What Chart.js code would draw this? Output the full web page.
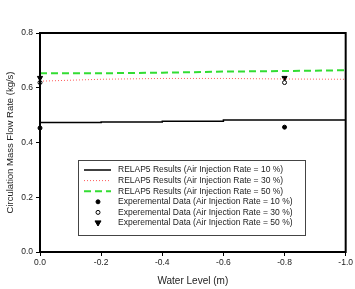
<!DOCTYPE html>
<html>
<head>
<meta charset="utf-8">
<script src="https://cdn.jsdelivr.net/npm/chart.js@4.4.1/dist/chart.umd.min.js"></script>
<style>
  html, body { margin: 0; padding: 0; background: #fff; }
  #wrap { width: 355px; height: 289px; }
</style>
</head>
<body>
<div id="wrap"><canvas id="flowChart" width="355" height="289"></canvas></div>
<script>
// water level positions (m) for the RELAP5 curves
const levels = [0, -0.2, -0.4, -0.6, -0.8, -1.0];
const relap10 = [0.473, 0.475, 0.478, 0.482, 0.482, 0.482];
const relap30 = [0.624, 0.631, 0.634, 0.634, 0.632, 0.631];
const relap50 = [0.653, 0.653, 0.655, 0.659, 0.661, 0.664];

// measured points
const expLevels = [0, -0.8];
const exp10 = [0.453, 0.456];
const exp30 = [0.619, 0.619];
const exp50 = [0.636, 0.636];

const seriesLabels = [
    'RELAP5 Results (Air Injection Rate = 10 %)',
    'RELAP5 Results (Air Injection Rate = 30 %)',
    'RELAP5 Results (Air Injection Rate = 50 %)',
    'Experemental Data (Air Injection Rate = 10 %)',
    'Experemental Data (Air Injection Rate = 30 %)',
    'Experemental Data (Air Injection Rate = 50 %)'
];

const toXY = (xs, ys) => xs.map((x, i) => ({ x: x, y: ys[i] }));

const fontFamily = 'Arial, "Liberation Sans", sans-serif';

// frame around plot area + boxed legend inside it
const framePlugin = {
    id: 'frame',
    afterDraw(chart) {
        const ctx = chart.ctx;
        const a = chart.chartArea;
        ctx.save();
        ctx.strokeStyle = '#000';
        ctx.lineWidth = 2;
        ctx.strokeRect(a.left, a.top, a.right - a.left, a.bottom - a.top);

        // legend
        const bx = 78, by = 160, bw = 227, bh = 75;
        ctx.fillStyle = '#fff';
        ctx.fillRect(bx, by, bw, bh);
        ctx.lineWidth = 1;
        ctx.strokeStyle = '#444';
        ctx.strokeRect(bx + 0.5, by + 0.5, bw, bh);

        ctx.font = '8.5px ' + fontFamily;
        ctx.textBaseline = 'middle';
        chart.data.datasets.forEach((ds, i) => {
            const y = by + 10 + i * 10.6;
            if (ds.showLine) {
                ctx.beginPath();
                ctx.strokeStyle = ds.borderColor;
                ctx.lineWidth = ds.borderWidth;
                ctx.setLineDash(ds.borderDash || []);
                ctx.moveTo(84, y);
                ctx.lineTo(111, y);
                ctx.stroke();
                ctx.setLineDash([]);
            } else {
                ctx.fillStyle = ds.backgroundColor;
                ctx.strokeStyle = ds.borderColor;
                ctx.lineWidth = 1;
                ctx.beginPath();
                const r = ds.pointRadius;
                if (ds.pointStyle === 'circle') {
                    ctx.arc(98, y, r, 0, Math.PI * 2);
                } else {
                    ctx.moveTo(98 - r, y - r * 0.7);
                    ctx.lineTo(98 + r, y - r * 0.7);
                    ctx.lineTo(98, y + r);
                    ctx.closePath();
                }
                ctx.fill();
                ctx.stroke();
            }
            ctx.fillStyle = '#222';
            ctx.fillText(seriesLabels[i], 118, y);
        });
        ctx.restore();
    }
};

new Chart(document.getElementById('flowChart'), {
    type: 'scatter',
    data: {
        datasets: [
            {
                label: seriesLabels[0],
                data: toXY(levels, relap10),
                showLine: true,
                stepped: true,
                borderColor: '#000',
                borderWidth: 1.5,
                pointRadius: 0
            },
            {
                label: seriesLabels[1],
                data: toXY(levels, relap30),
                showLine: true,
                borderColor: '#ff5a5a',
                borderWidth: 1,
                borderDash: [1, 2],
                pointRadius: 0
            },
            {
                label: seriesLabels[2],
                data: toXY(levels, relap50),
                showLine: true,
                borderColor: '#33dd33',
                borderWidth: 2,
                borderDash: [7, 4],
                pointRadius: 0
            },
            {
                label: seriesLabels[3],
                data: toXY(expLevels, exp10),
                showLine: false,
                pointStyle: 'circle',
                pointRadius: 2,
                backgroundColor: '#000',
                borderColor: '#000',
                borderWidth: 1,
                clip: false
            },
            {
                label: seriesLabels[4],
                data: toXY(expLevels, exp30),
                showLine: false,
                pointStyle: 'circle',
                pointRadius: 2,
                backgroundColor: '#fff',
                borderColor: '#000',
                borderWidth: 1,
                clip: false
            },
            {
                label: seriesLabels[5],
                data: toXY(expLevels, exp50),
                showLine: false,
                pointStyle: 'triangle',
                rotation: 180,
                pointRadius: 3,
                backgroundColor: '#000',
                borderColor: '#000',
                borderWidth: 1,
                clip: false
            }
        ]
    },
    options: {
        responsive: false,
        animation: false,
        layout: { padding: { left: 0, right: 8, top: 33, bottom: 0 } },
        plugins: {
            legend: { display: false },
            tooltip: { enabled: false }
        },
        scales: {
            x: {
                type: 'linear',
                min: -1,
                max: 0,
                reverse: true,
                afterFit: s => { s.height = 37; },
                border: { display: true, color: '#000', width: 2 },
                grid: { display: true, drawOnChartArea: false, drawTicks: true, tickLength: 4, color: '#000' },
                ticks: {
                    stepSize: 0.2,
                    color: '#222',
                    padding: 2,
                    maxRotation: 0,
                    font: { size: 8.5, family: fontFamily },
                    callback: v => Number(v).toFixed(1)
                },
                title: {
                    display: true,
                    text: 'Water Level (m)',
                    color: '#222',
                    padding: { top: 0, bottom: 2 },
                    font: { size: 10, family: fontFamily }
                }
            },
            y: {
                min: 0,
                max: 0.8,
                afterFit: s => { s.width = 40; },
                border: { display: true, color: '#000', width: 2 },
                grid: { display: true, drawOnChartArea: false, drawTicks: true, tickLength: 4, color: '#000' },
                ticks: {
                    stepSize: 0.2,
                    color: '#222',
                    padding: 3,
                    font: { size: 8.5, family: fontFamily },
                    callback: v => Number(v).toFixed(1)
                },
                title: {
                    display: true,
                    text: 'Circulation Mass Flow Rate (kg/s)',
                    color: '#222',
                    padding: { top: 5, bottom: 0 },
                    font: { size: 9.5, family: fontFamily }
                }
            }
        }
    },
    plugins: [framePlugin]
});
</script>
</body>
</html>
